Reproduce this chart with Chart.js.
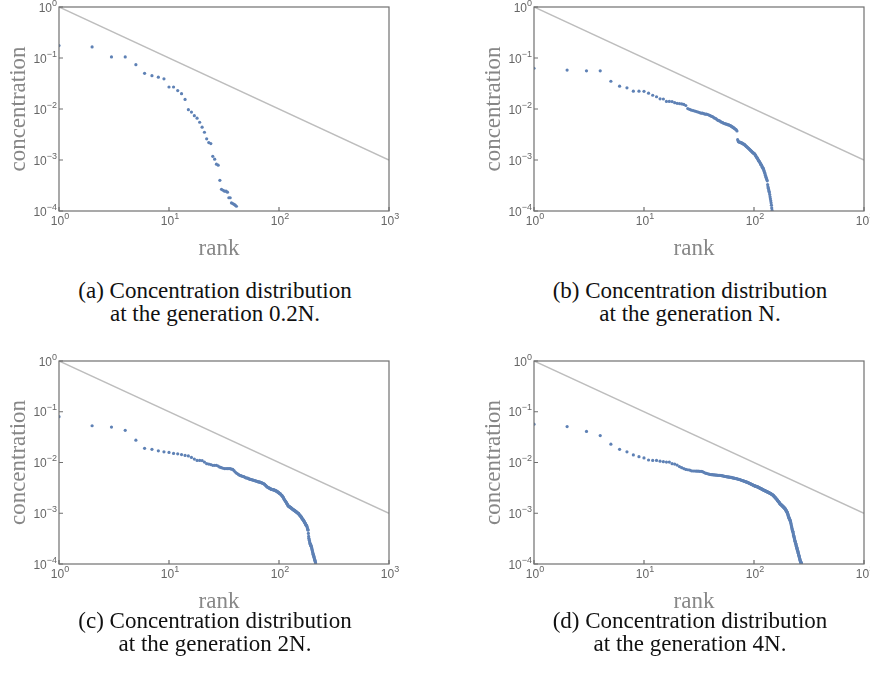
<!DOCTYPE html>
<html>
<head>
<meta charset="utf-8">
<script src="https://cdn.jsdelivr.net/npm/chart.js@4.4.1/dist/chart.umd.min.js"></script>
<style>
  body { margin: 0; background: #fff; width: 870px; height: 683px; position: relative; overflow: hidden; }
  .panel { position: absolute; width: 435px; height: 270px; }
  .cap { position: absolute; width: 400px; text-align: center; font-family: 'Liberation Serif', serif;
         font-size: 23px; line-height: 23px; color: #111; }
</style>
</head>
<body>
<div class="panel" style="left:0;top:0"><canvas id="chartA"></canvas></div>
<div class="panel" style="left:435px;top:0"><canvas id="chartB"></canvas></div>
<div class="panel" style="left:0;top:340px"><canvas id="chartC"></canvas></div>
<div class="panel" style="left:435px;top:340px"><canvas id="chartD"></canvas></div>

<div class="cap" style="left:15px;top:279px">(a) Concentration distribution<br>at the generation 0.2N.</div>
<div class="cap" style="left:490px;top:279px">(b) Concentration distribution<br>at the generation N.</div>
<div class="cap" style="left:15px;top:609px">(c) Concentration distribution<br>at the generation 2N.</div>
<div class="cap" style="left:490px;top:609px">(d) Concentration distribution<br>at the generation 4N.</div>

<script>
// axis ticks (values and the exponent shown on each)
const rankTicks = [1, 10, 100, 1000];
const rankTickExp = ['0', '1', '2', '3'];
const concTicks = [1e-4, 1e-3, 1e-2, 1e-1, 1];
const concTickExp = ['\u22124', '\u22123', '\u22122', '\u22121', '0'];

// reference line c = 1/rank
const refRank = [1, 1000];
const refConc = [1, 0.001];

// concentration by rank (rank = position + 1)
const concA = [0.175, 0.165, 0.105, 0.105, 0.074, 0.050, 0.045, 0.042, 0.039, 0.027,
  0.027, 0.023, 0.020, 0.0154, 0.0097, 0.0087, 0.0074, 0.0066, 0.0055, 0.0044,
  0.0035, 0.0026, 0.0022, 0.0021, 0.00118, 0.00104, 0.00083, 0.00079, 0.00040, 0.000266,
  0.000255, 0.000245, 0.000245, 0.000234, 0.000182, 0.000182, 0.000144, 0.00014, 0.000135, 0.00013,
  0.000124];

const concB = [6.3e-2, 5.8e-2, 5.6e-2, 5.6e-2, 3.5e-2, 2.8e-2, 2.6e-2, 2.24e-2, 2.24e-2, 2.22e-2,
  2.04e-2, 1.86e-2, 1.74e-2, 1.58e-2, 1.57e-2, 1.41e-2, 1.41e-2, 1.40e-2, 1.33e-2, 1.29e-2,
  1.28e-2, 1.26e-2, 1.23e-2, 1.17e-2, 1.02e-2, 9.8e-3, 9.5e-3, 9.3e-3, 9.1e-3, 8.9e-3,
  8.7e-3, 8.5e-3, 8.3e-3, 8.3e-3, 8.1e-3, 7.9e-3, 7.9e-3, 7.8e-3, 7.6e-3, 7.4e-3,
  7.2e-3, 7.1e-3, 6.8e-3, 6.6e-3, 6.5e-3, 6.2e-3, 6.0e-3, 5.9e-3, 5.8e-3, 5.6e-3,
  5.5e-3, 5.4e-3, 5.25e-3, 5.2e-3, 5.1e-3, 5.07e-3, 5.0e-3, 4.9e-3, 4.9e-3, 4.8e-3,
  4.7e-3, 4.6e-3, 4.5e-3, 4.4e-3, 4.3e-3, 4.2e-3, 4.1e-3, 4.0e-3, 3.9e-3, 3.7e-3,
  2.5e-3, 2.3e-3, 2.26e-3, 2.24e-3, 2.21e-3, 2.19e-3, 2.16e-3, 2.14e-3, 2.09e-3, 2.06e-3,
  2.04e-3, 2.0e-3, 1.95e-3, 1.9e-3, 1.86e-3, 1.82e-3, 1.78e-3, 1.74e-3, 1.70e-3, 1.66e-3,
  1.62e-3, 1.58e-3, 1.55e-3, 1.51e-3, 1.48e-3, 1.45e-3, 1.41e-3, 1.38e-3, 1.36e-3, 1.35e-3,
  1.32e-3, 1.29e-3, 1.23e-3, 1.20e-3, 1.15e-3, 1.12e-3, 1.10e-3, 1.05e-3, 1.02e-3, 9.8e-4,
  9.5e-4, 9.3e-4, 8.9e-4, 8.7e-4, 8.3e-4, 8.1e-4, 7.9e-4, 7.6e-4, 7.2e-4, 7.1e-4,
  6.9e-4, 6.6e-4, 6.2e-4, 5.9e-4, 5.6e-4, 5.4e-4, 5.0e-4, 4.7e-4, 4.5e-4, 4.3e-4,
  4.1e-4, 3.9e-4, 3.3e-4, 3.0e-4, 2.8e-4, 2.6e-4, 2.45e-4, 2.3e-4, 2.1e-4, 1.9e-4,
  1.74e-4, 1.58e-4, 1.45e-4, 1.3e-4, 1.15e-4, 1.03e-4];

const concC = [8.0e-2, 5.3e-2, 5.0e-2, 4.3e-2, 2.75e-2, 1.9e-2, 1.82e-2, 1.70e-2, 1.62e-2, 1.58e-2,
  1.51e-2, 1.48e-2, 1.43e-2, 1.38e-2, 1.35e-2, 1.26e-2, 1.17e-2, 1.10e-2, 1.10e-2, 1.09e-2,
  1.02e-2, 9.5e-3, 9.3e-3, 9.1e-3, 8.8e-3, 8.8e-3, 8.8e-3, 8.5e-3, 8.1e-3, 7.9e-3,
  7.7e-3, 7.6e-3, 7.6e-3, 7.6e-3, 7.6e-3, 7.55e-3, 7.4e-3, 7.3e-3, 6.9e-3, 6.5e-3,
  6.2e-3, 6.0e-3, 5.75e-3, 5.6e-3, 5.5e-3, 5.4e-3, 5.3e-3, 5.25e-3, 5.1e-3, 5.0e-3,
  4.95e-3, 4.9e-3, 4.8e-3, 4.7e-3, 4.65e-3, 4.6e-3, 4.55e-3, 4.5e-3, 4.45e-3, 4.4e-3,
  4.35e-3, 4.3e-3, 4.25e-3, 4.2e-3, 4.15e-3, 4.15e-3, 4.1e-3, 4.05e-3, 4.0e-3, 3.95e-3,
  3.9e-3, 3.85e-3, 3.8e-3, 3.7e-3, 3.6e-3, 3.5e-3, 3.4e-3, 3.3e-3, 3.25e-3, 3.2e-3,
  3.15e-3, 3.1e-3, 3.08e-3, 3.0e-3, 2.98e-3, 2.95e-3, 2.93e-3, 2.92e-3, 2.9e-3, 2.88e-3,
  2.85e-3, 2.82e-3, 2.79e-3, 2.75e-3, 2.72e-3, 2.69e-3, 2.63e-3, 2.6e-3, 2.57e-3, 2.51e-3,
  2.45e-3, 2.43e-3, 2.4e-3, 2.34e-3, 2.29e-3, 2.24e-3, 2.19e-3, 2.14e-3, 2.06e-3, 2.0e-3,
  1.9e-3, 1.86e-3, 1.8e-3, 1.74e-3, 1.7e-3, 1.66e-3, 1.6e-3, 1.55e-3, 1.51e-3, 1.46e-3,
  1.41e-3, 1.38e-3, 1.36e-3, 1.35e-3, 1.33e-3, 1.32e-3, 1.30e-3, 1.29e-3, 1.27e-3, 1.26e-3,
  1.23e-3, 1.22e-3, 1.2e-3, 1.19e-3, 1.17e-3, 1.16e-3, 1.15e-3, 1.14e-3, 1.12e-3, 1.11e-3,
  1.10e-3, 1.08e-3, 1.07e-3, 1.06e-3, 1.05e-3, 1.035e-3, 1.02e-3, 1.01e-3, 1.0e-3, 9.9e-4,
  9.8e-4, 9.5e-4, 9.3e-4, 9.2e-4, 9.1e-4, 8.9e-4, 8.8e-4, 8.7e-4, 8.5e-4, 8.3e-4,
  8.1e-4, 7.9e-4, 7.8e-4, 7.6e-4, 7.5e-4, 7.4e-4, 7.2e-4, 7.1e-4, 6.9e-4, 6.8e-4,
  6.6e-4, 6.5e-4, 6.3e-4, 6.2e-4, 6.0e-4, 5.9e-4, 5.75e-4, 5.7e-4, 5.6e-4, 5.4e-4,
  5.1e-4, 4.9e-4, 4.7e-4, 4.7e-4, 4.0e-4, 3.5e-4, 3.2e-4, 3.0e-4, 2.9e-4, 2.7e-4,
  2.6e-4, 2.5e-4, 2.45e-4, 2.4e-4, 2.3e-4, 2.25e-4, 2.2e-4, 2.1e-4, 2.0e-4, 1.9e-4,
  1.82e-4, 1.74e-4, 1.66e-4, 1.58e-4, 1.55e-4, 1.48e-4, 1.41e-4, 1.38e-4, 1.32e-4, 1.26e-4,
  1.23e-4, 1.17e-4, 1.15e-4, 1.1e-4, 1.05e-4];

const concD = [5.7e-2, 5.1e-2, 4.1e-2, 3.4e-2, 2.3e-2, 1.82e-2, 1.62e-2, 1.41e-2, 1.30e-2, 1.23e-2,
  1.12e-2, 1.10e-2, 1.10e-2, 1.06e-2, 1.04e-2, 1.02e-2, 1.02e-2, 9.5e-3, 9.3e-3, 8.9e-3,
  8.3e-3, 7.9e-3, 7.6e-3, 7.3e-3, 7.2e-3, 7.1e-3, 6.85e-3, 6.8e-3, 6.8e-3, 6.75e-3,
  6.75e-3, 6.7e-3, 6.7e-3, 6.6e-3, 6.4e-3, 6.2e-3, 6.1e-3, 6.0e-3, 5.9e-3, 5.8e-3,
  5.75e-3, 5.75e-3, 5.7e-3, 5.7e-3, 5.65e-3, 5.62e-3, 5.6e-3, 5.6e-3, 5.58e-3, 5.55e-3,
  5.5e-3, 5.45e-3, 5.4e-3, 5.35e-3, 5.3e-3, 5.25e-3, 5.22e-3, 5.2e-3, 5.17e-3, 5.13e-3,
  5.1e-3, 5.07e-3, 5.02e-3, 5.0e-3, 4.95e-3, 4.9e-3, 4.88e-3, 4.84e-3, 4.8e-3, 4.78e-3,
  4.73e-3, 4.68e-3, 4.66e-3, 4.62e-3, 4.57e-3, 4.52e-3, 4.47e-3, 4.42e-3, 4.37e-3, 4.35e-3,
  4.31e-3, 4.27e-3, 4.22e-3, 4.17e-3, 4.15e-3, 4.12e-3, 4.07e-3, 4.03e-3, 3.98e-3, 3.94e-3,
  3.89e-3, 3.85e-3, 3.8e-3, 3.76e-3, 3.72e-3, 3.67e-3, 3.63e-3, 3.59e-3, 3.55e-3, 3.51e-3,
  3.47e-3, 3.45e-3, 3.42e-3, 3.39e-3, 3.37e-3, 3.35e-3, 3.32e-3, 3.3e-3, 3.27e-3, 3.24e-3,
  3.2e-3, 3.16e-3, 3.13e-3, 3.1e-3, 3.08e-3, 3.05e-3, 3.02e-3, 2.98e-3, 2.95e-3, 2.92e-3,
  2.89e-3, 2.87e-3, 2.85e-3, 2.82e-3, 2.8e-3, 2.78e-3, 2.75e-3, 2.72e-3, 2.7e-3, 2.68e-3,
  2.66e-3, 2.63e-3, 2.62e-3, 2.6e-3, 2.58e-3, 2.56e-3, 2.54e-3, 2.51e-3, 2.5e-3, 2.48e-3,
  2.45e-3, 2.43e-3, 2.41e-3, 2.39e-3, 2.37e-3, 2.34e-3, 2.32e-3, 2.29e-3, 2.26e-3, 2.24e-3,
  2.19e-3, 2.16e-3, 2.14e-3, 2.09e-3, 2.07e-3, 2.04e-3, 2.0e-3, 1.97e-3, 1.95e-3, 1.9e-3,
  1.88e-3, 1.86e-3, 1.82e-3, 1.78e-3, 1.74e-3, 1.72e-3, 1.7e-3, 1.66e-3, 1.64e-3, 1.62e-3,
  1.58e-3, 1.55e-3, 1.53e-3, 1.51e-3, 1.5e-3, 1.48e-3, 1.46e-3, 1.45e-3, 1.43e-3, 1.41e-3,
  1.4e-3, 1.38e-3, 1.36e-3, 1.35e-3, 1.33e-3, 1.32e-3, 1.3e-3, 1.29e-3, 1.27e-3, 1.26e-3,
  1.24e-3, 1.23e-3, 1.2e-3, 1.17e-3, 1.15e-3, 1.12e-3, 1.11e-3, 1.1e-3, 1.07e-3, 1.05e-3,
  1.02e-3, 1.0e-3, 9.5e-4, 9.3e-4, 8.9e-4, 8.7e-4, 8.3e-4, 8.1e-4, 7.9e-4, 7.8e-4,
  7.6e-4, 7.4e-4, 7.2e-4, 7.0e-4, 6.8e-4, 6.5e-4, 6.2e-4, 5.9e-4, 5.6e-4, 5.4e-4,
  5.1e-4, 4.9e-4, 4.7e-4, 4.5e-4, 4.4e-4, 4.3e-4, 4.1e-4, 3.9e-4, 3.7e-4, 3.55e-4,
  3.45e-4, 3.3e-4, 3.15e-4, 3.1e-4, 2.95e-4, 2.8e-4, 2.75e-4, 2.6e-4, 2.55e-4, 2.5e-4,
  2.4e-4, 2.3e-4, 2.25e-4, 2.15e-4, 2.1e-4, 2.05e-4, 1.95e-4, 1.9e-4, 1.86e-4, 1.78e-4,
  1.74e-4, 1.66e-4, 1.62e-4, 1.58e-4, 1.51e-4, 1.48e-4, 1.41e-4, 1.38e-4, 1.32e-4, 1.29e-4,
  1.26e-4, 1.2e-4, 1.17e-4, 1.15e-4, 1.12e-4, 1.1e-4, 1.07e-4, 1.06e-4, 1.05e-4, 1.02e-4];

const POINT_COLOR = '#5e81b5';
const FRAME_COLOR = '#707070';
const TICK_COLOR = '#666666';
const TITLE_COLOR = '#878787';

// draw "10" with a raised exponent
function drawPow(ctx, exp, x, y, mode) {
  ctx.font = '12px "Liberation Sans", Arial, sans-serif';
  const baseW = ctx.measureText('10').width;
  ctx.font = '9px "Liberation Sans", Arial, sans-serif';
  const expW = ctx.measureText(exp).width;
  const start = mode === 'y' ? x - baseW - expW : x - (baseW + expW) / 2;
  const baseY = mode === 'y' ? y + 4.5 : y + 14;
  ctx.font = '12px "Liberation Sans", Arial, sans-serif';
  ctx.fillText('10', start, baseY);
  ctx.font = '9px "Liberation Sans", Arial, sans-serif';
  ctx.fillText(exp, start + baseW, baseY - 6);
}

// frame, inner ticks, superscript tick labels and axis titles
const framePlugin = {
  id: 'frame',
  afterDatasetsDraw(chart) {
    const { ctx, chartArea: a, scales: { x, y } } = chart;
    ctx.save();
    ctx.strokeStyle = FRAME_COLOR;
    ctx.lineWidth = 1.2;
    ctx.strokeRect(a.left, a.top, a.right - a.left, a.bottom - a.top);

    ctx.beginPath();
    rankTicks.forEach(v => {
      const px = x.getPixelForValue(v);
      ctx.moveTo(px, a.bottom); ctx.lineTo(px, a.bottom - 4);
    });
    concTicks.forEach(v => {
      const py = y.getPixelForValue(v);
      ctx.moveTo(a.left, py); ctx.lineTo(a.left + 4, py);
    });
    ctx.stroke();

    ctx.fillStyle = TICK_COLOR;
    ctx.textAlign = 'left';
    ctx.textBaseline = 'alphabetic';
    rankTicks.forEach((v, i) => drawPow(ctx, rankTickExp[i], x.getPixelForValue(v) + 1, a.bottom, 'x'));
    concTicks.forEach((v, i) => drawPow(ctx, concTickExp[i], a.left - 2, y.getPixelForValue(v), 'y'));

    ctx.fillStyle = TITLE_COLOR;
    ctx.font = '23px "Liberation Serif", "Times New Roman", serif';
    ctx.textAlign = 'center';
    ctx.fillText('rank', (a.left + a.right) / 2 - 5, a.bottom + 44);
    ctx.translate(a.left - 34.5, (a.top + a.bottom) / 2);
    ctx.rotate(-Math.PI / 2);
    ctx.fillText('concentration', 0, 0);
    ctx.restore();
  }
};

function makeChart(id, conc, pad) {
  new Chart(document.getElementById(id), {
    type: 'scatter',
    data: {
      datasets: [
        {
          data: refRank.map((r, i) => ({ x: r, y: refConc[i] })),
          showLine: true,
          borderColor: '#bdbdbd',
          borderWidth: 1.5,
          pointRadius: 0,
          clip: 0
        },
        {
          data: conc.map((c, i) => ({ x: i + 1, y: c })),
          backgroundColor: POINT_COLOR,
          borderWidth: 0,
          pointRadius: 1.6,
          clip: 0
        }
      ]
    },
    options: {
      responsive: true,
      maintainAspectRatio: false,
      animation: false,
      events: [],
      layout: { padding: pad },
      plugins: { legend: { display: false }, tooltip: { enabled: false } },
      scales: {
        x: { type: 'logarithmic', min: 1, max: 1000, display: false },
        y: { type: 'logarithmic', min: 1e-4, max: 1, display: false }
      }
    },
    plugins: [framePlugin]
  });
}

makeChart('chartA', concA, { left: 59, top: 7, right: 46, bottom: 59 });
makeChart('chartB', concB, { left: 99, top: 7, right: 6, bottom: 59 });
makeChart('chartC', concC, { left: 59, top: 21, right: 46, bottom: 46 });
makeChart('chartD', concD, { left: 99, top: 21, right: 6, bottom: 46 });
</script>
</body>
</html>
